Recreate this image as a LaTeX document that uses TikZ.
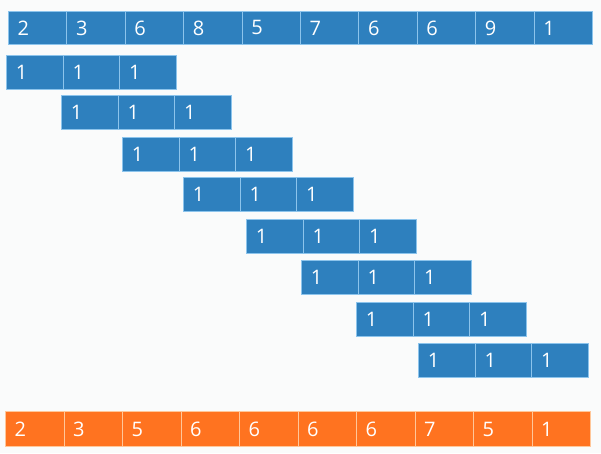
\documentclass[tikz,border=0pt]{standalone}
\usepackage{fontspec}
\setmainfont{Open Sans}
\definecolor{bg}{HTML}{FAFBFB}
\definecolor{cellblue}{HTML}{2E80BE}
\definecolor{lineblue}{HTML}{8CC4EC}
\definecolor{cellorange}{HTML}{FF7320}
\definecolor{lineorange}{HTML}{FFC79A}
\tikzset{
  cellbase/.style={draw, line width=0.9pt, anchor=north west, inner sep=0pt,
    font=\fontsize{20}{20}\selectfont, text=white, align=left},
  bluecell/.style={cellbase, fill=cellblue, draw=lineblue},
  orangecell/.style={cellbase, fill=cellorange, draw=lineorange}
}
\begin{document}
\begin{tikzpicture}[x=1pt,y=-1pt]
\useasboundingbox (0,0) rectangle (601,453);
\fill[bg] (0,0) rectangle (601,453);
% top input row
\foreach \v [count=\i from 0] in {2,3,6,8,5,7,6,6,9,1}{
  \node[bluecell, minimum width=58.4pt, minimum height=33pt, text width=48pt]
    (in\i) at ({8+58.4*\i},11) {\hspace*{4pt}\v};
}
% kernel rows
\foreach \L/\T [count=\r] in {6/55, 61/95, 122/137, 183/177, 246/219, 301/260, 356/302, 418/343}{
  \foreach \j in {0,1,2}{
    \node[bluecell, minimum width=56.7pt, minimum height=34pt, text width=46pt]
      (k\r-\j) at ({\L+56.7*\j},\T) {\hspace*{4pt}1};
  }
}
% output row
\foreach \v [count=\i from 0] in {2,3,5,6,6,6,6,7,5,1}{
  \node[orangecell, minimum width=58.5pt, minimum height=35pt, text width=48pt]
    (out\i) at ({5+58.5*\i},411) {\hspace*{4pt}\v};
}
\end{tikzpicture}
\end{document}
